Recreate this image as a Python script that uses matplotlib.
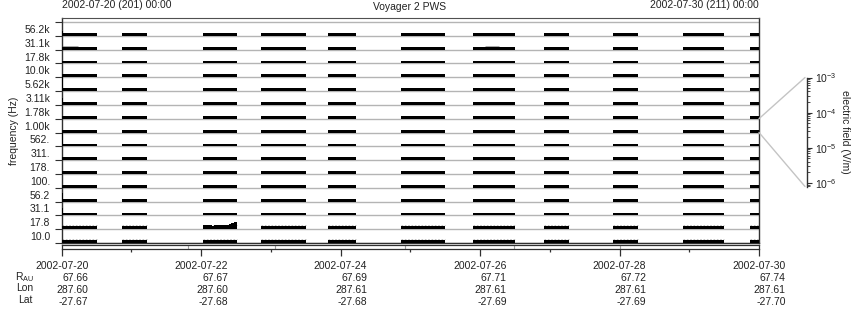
import matplotlib
matplotlib.use('Agg')
import matplotlib.pyplot as plt
import numpy as np
from matplotlib.ticker import FixedLocator, FixedFormatter, NullFormatter, LogLocator
from matplotlib.patches import ConnectionPatch

plt.rcParams['font.family'] = ['Liberation Sans', 'DejaVu Sans']
plt.rcParams['mathtext.fontset'] = 'custom'
plt.rcParams['mathtext.rm'] = 'Liberation Sans'
plt.rcParams['mathtext.it'] = 'Liberation Sans:italic'
plt.rcParams['mathtext.default'] = 'regular'

# ---------------- data ----------------
freq_labels = ['10.0', '17.8', '31.1', '56.2', '100.', '178.', '311.', '562.',
               '1.00k', '1.78k', '3.11k', '5.62k', '10.0k', '17.8k', '31.1k', '56.2k']
# data coverage intervals (days since 2002-07-20 00:00)
seg_start = [0.0, 0.865, 2.027, 2.86, 3.82, 4.87, 5.90, 6.92, 7.91, 8.91, 9.87]
seg_end = [0.506, 1.224, 2.515, 3.505, 4.22, 5.50, 6.50, 7.28, 8.27, 9.50, 10.0]
base_level = 0.2
first_bin_level = [0.2, 0.2, 0.5, 0.59, 0.2, 0.2, 0.2, 1.0,
                   0.2, 0.2, 0.47, 1.0, 0.2, 0.2, 0.2, 0.35]
burst_edges = [2.027, 2.068, 2.108, 2.149, 2.190, 2.230, 2.271, 2.312,
               2.352, 2.393, 2.434, 2.474, 2.515]
burst_level = [0.33, 0.29, 0.27, 0.26, 0.27, 0.28, 0.29, 0.30, 0.33, 0.36, 0.42, 0.55]
noise_bands = [0, 1]
noise_level = 0.27
faint_band = 14
faint_start = [0.0, 6.07]
faint_end = [0.23, 6.27]
strip_marks = [1.81, 3.06, 4.92, 6.49, 8.01]
day_major = [0, 2, 4, 6, 8, 10]
day_minor = [1, 3, 5, 7, 9]
date_labels = ['2002-07-20', '2002-07-22', '2002-07-24', '2002-07-26', '2002-07-28', '2002-07-30']
r_au = ['67.66', '67.67', '67.69', '67.71', '67.72', '67.74']
lon = ['287.60', '287.60', '287.61', '287.61', '287.61', '287.61']
lat = ['-27.67', '-27.68', '-27.68', '-27.69', '-27.69', '-27.70']
cbar_lo, cbar_hi = 10 ** -6.1, 1e-3
callout_band = 8

# ---------------- layout ----------------
W, H, DPI = 860, 320, 100
fig = plt.figure(figsize=(W / DPI, H / DPI), dpi=DPI)
TXT = '#222222'
FRAME = '#303030'
GRID = '#b4b4b4'
FS = 7.5


def fx(px):
    return px / W


def fy(py):
    return 1 - py / H


x0, x1 = 61.7, 759.0
ytop, ybot = 18.3, 243.0
ax = fig.add_axes([fx(x0), fy(ybot), fx(x1 - x0), (ybot - ytop) / H])
nb = len(freq_labels)
ax.set_xlim(0, 10)
ax.set_ylim(0, nb + 3.7 / ((ybot - 22.0) / nb))

ax.hlines(np.arange(nb + 1), 0, 10, color=GRID, lw=1.0, zorder=1)
for i in range(nb):
    ax.broken_barh([(s, e - s) for s, e in zip(seg_start, seg_end)], (i, base_level),
                   facecolor='black', edgecolor='none', zorder=3)
    ax.broken_barh([(0, 0.015)], (i, first_bin_level[i]),
                   facecolor='black', edgecolor='none', zorder=3)
for i in noise_bands:
    ax.hlines([i + noise_level] * len(seg_start), seg_start, seg_end, color='#b8b8b8',
              lw=0.6, linestyles=(0, (2, 2)), zorder=2)
ax.hlines([faint_band + noise_level] * len(faint_start), faint_start, faint_end,
          color='#a8a8a8', lw=0.7, zorder=2)
ax.fill_between(burst_edges, 1, 1 + np.append(burst_level, burst_level[-1]),
                step='post', color='black', lw=0, zorder=3)

for sp in ['left', 'right', 'bottom']:
    ax.spines[sp].set_color(FRAME)
    ax.spines[sp].set_linewidth(1.0)
ax.spines['top'].set_color('#505050')
ax.spines['top'].set_linewidth(0.8)
ax.set_xticks([])
ax.yaxis.set_major_locator(FixedLocator(np.arange(nb + 1)))
ax.yaxis.set_major_formatter(NullFormatter())
ax.yaxis.set_minor_locator(FixedLocator(np.arange(nb) + 0.5))
ax.yaxis.set_minor_formatter(FixedFormatter(freq_labels))
ax.tick_params(axis='y', which='major', length=4.8, width=0.8, color=FRAME, direction='out')
ax.tick_params(axis='y', which='minor', length=0, pad=8.4, labelsize=FS, labelcolor=TXT)
ax.set_ylabel('frequency (Hz)', fontsize=FS, color=TXT, labelpad=4)

# ---------------- time strip ----------------
axs = fig.add_axes([fx(x0), fy(249.0), fx(x1 - x0), 4.0 / H])
axs.set_xlim(0, 10)
axs.set_ylim(0, 1)
axs.vlines(strip_marks, 0, 1, color='#a0a0a0', lw=0.8)
axs.set_yticks([])
for sp in axs.spines.values():
    sp.set_color(FRAME)
    sp.set_linewidth(0.9)
axs.xaxis.set_major_locator(FixedLocator(day_major))
axs.xaxis.set_minor_locator(FixedLocator(day_minor))
labels = ['\n'.join(t) for t in zip(date_labels, r_au, lon, lat)]
axs.xaxis.set_major_formatter(FixedFormatter(labels))
axs.tick_params(axis='x', which='major', length=5.0, width=0.9, color=FRAME,
                pad=3.9, labelsize=FS, labelcolor=TXT)
axs.tick_params(axis='x', which='minor', length=2.2, width=0.9, color=FRAME)
for lbl in axs.get_xticklabels():
    lbl.set_multialignment('right')
    lbl.set_linespacing(1.23)

row_names = [r'R$_{\rm AU}$', 'Lon', 'Lat']
row_y = [276.7, 288.3, 300.0]
for name, yy in zip(row_names, row_y):
    fig.text(fx(25), fy(yy), name, ha='center', va='center', fontsize=FS, color=TXT)

# ---------------- titles ----------------
fig.text(fx(x0), fy(5.5), '2002-07-20 (201) 00:00', ha='left', va='center', fontsize=FS, color=TXT)
fig.text(fx(758.5), fy(5.5), '2002-07-30 (211) 00:00', ha='right', va='center', fontsize=FS, color=TXT)
fig.text(fx(410), fy(7), 'Voyager 2 PWS', ha='center', va='center', fontsize=FS, color=TXT)

# ---------------- colour scale ----------------
cb_top, cb_bot = 77.5, 186.5
axc = fig.add_axes([fx(805), fy(cb_bot), fx(1.7), (cb_bot - cb_top) / H])
axc.set_yscale('log')
axc.set_ylim(cbar_lo, cbar_hi)
axc.set_xticks([])
for sp in ['left', 'top', 'bottom']:
    axc.spines[sp].set_visible(False)
axc.spines['right'].set_color(FRAME)
axc.spines['right'].set_linewidth(1.0)
axc.yaxis.tick_right()
axc.yaxis.set_major_locator(LogLocator(base=10, numticks=10))
axc.yaxis.set_minor_locator(LogLocator(base=10, subs=np.arange(2, 10), numticks=10))
axc.yaxis.set_minor_formatter(NullFormatter())
axc.tick_params(axis='y', which='major', length=3.6, width=0.8, color=FRAME, pad=2.2,
                labelsize=FS, labelcolor=TXT)
axc.tick_params(axis='y', which='minor', length=2.2, width=0.6, color=FRAME)
axc.yaxis.set_label_position('right')
axc.set_ylabel('electric field (V/m)', rotation=270, fontsize=FS, color=TXT, labelpad=10)

for yb, yc in [(callout_band + 1, 1.0), (callout_band, 0.0)]:
    con = ConnectionPatch(xyA=(10, yb), coordsA=ax.transData,
                          xyB=(0, yc), coordsB=axc.transAxes,
                          color='#c4c4c4', lw=1.0)
    fig.add_artist(con)

fig.savefig('out.png', dpi=DPI)
